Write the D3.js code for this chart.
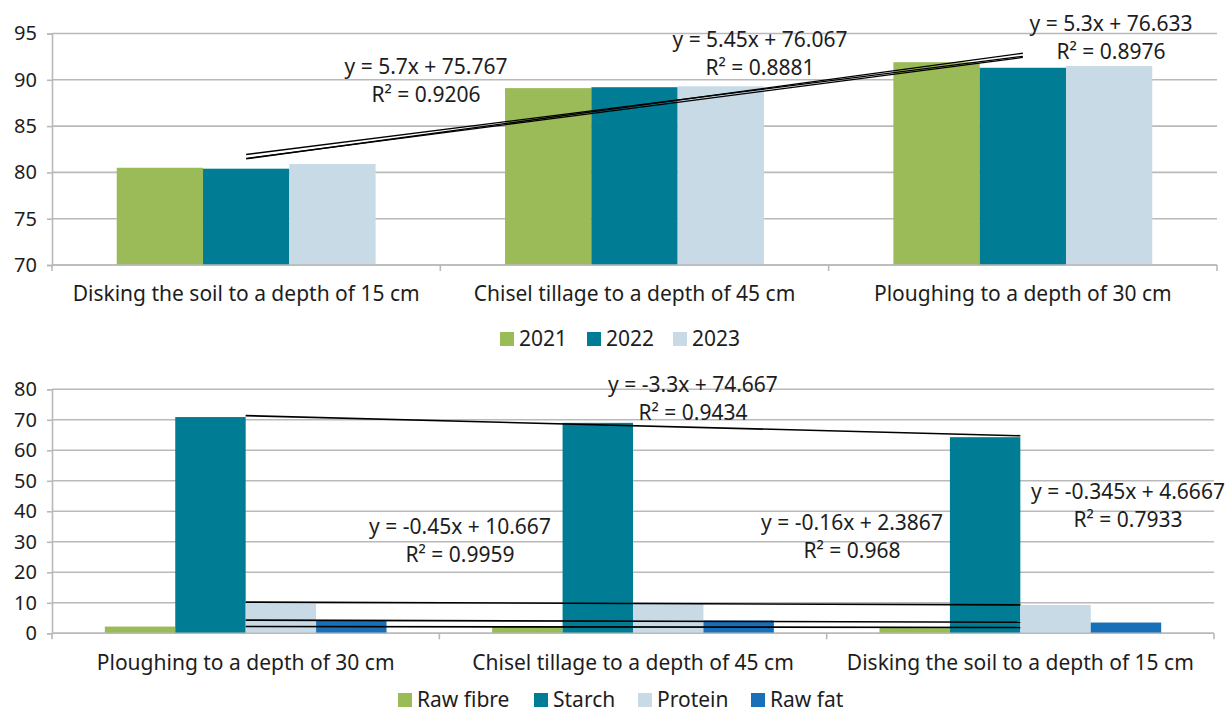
<!DOCTYPE html>
<html>
<head>
<meta charset="utf-8">
<script src="https://cdn.jsdelivr.net/npm/d3@7"></script>
<style>
  body { margin: 0; background: #fff; }
  text { font-family: "Noto Sans", sans-serif; fill: #1d1d1d; }
</style>
</head>
<body>
<svg id="chart" width="1230" height="713"></svg>
<script>
// ---- Upper chart: yield by tillage method and year ----
const topCategories = ["Disking the soil to a depth of 15 cm", "Chisel tillage to a depth of 45 cm", "Ploughing to a depth of 30 cm"];
const topSeries = ["2021", "2022", "2023"];
const values2021 = [80.5, 89.1, 91.9];
const values2022 = [80.4, 89.2, 91.3];
const values2023 = [80.9, 89.3, 91.5];
const topTicks = [70, 75, 80, 85, 90, 95];
const topTrendSlope = [5.7, 5.45, 5.3];
const topTrendIntercept = [75.767, 76.067, 76.633];
const topTrendR2 = [0.9206, 0.8881, 0.8976];

// ---- Lower chart: grain composition by tillage method ----
const bottomCategories = ["Ploughing to a depth of 30 cm", "Chisel tillage to a depth of 45 cm", "Disking the soil to a depth of 15 cm"];
const bottomSeries = ["Raw fibre", "Starch", "Protein", "Raw fat"];
const rawFibre = [2.21, 2.1, 1.89];
const starch = [70.9, 69.0, 64.3];
const protein = [10.2, 9.8, 9.3];
const rawFat = [4.22, 4.18, 3.53];
const bottomTicks = [0, 10, 20, 30, 40, 50, 60, 70, 80];
const bottomTrendSlope = [-0.16, -3.3, -0.45, -0.345];
const bottomTrendIntercept = [2.3867, 74.667, 10.667, 4.6667];
const bottomTrendR2 = [0.968, 0.9434, 0.9959, 0.7933];

const GREEN = "#9bbb59", TEAL = "#007c94", LIGHT = "#c7dae6", BLUE = "#1770b8";
const FONT = "21px";

const svg = d3.select("#chart");

function fmtNum(v) {
  // five significant digits, trailing zeros dropped
  return String(parseFloat(v.toPrecision(5)));
}
function equation(slope, intercept) {
  const sign = intercept < 0 ? " - " : " + ";
  return "y = " + fmtNum(slope) + "x" + sign + fmtNum(Math.abs(intercept));
}
function rsq(r2) {
  return "R\u00B2 = " + String(parseFloat(r2.toPrecision(4)));
}

function drawPanel(cfg) {
  const g = svg.append("g");
  const x = d3.scaleBand().domain(cfg.categories).range([cfg.left, cfg.right]);
  const y = d3.scaleLinear().domain(cfg.domain).range([cfg.bottom, cfg.top]);
  const inner = d3.scaleBand().domain(cfg.series).range([0, x.bandwidth()])
    .paddingInner(0).paddingOuter(0.75);

  // gridlines
  g.append("g").selectAll("line").data(cfg.ticks).join("line")
    .attr("x1", cfg.left).attr("x2", cfg.right)
    .attr("y1", d => y(d)).attr("y2", d => y(d))
    .attr("stroke", "#b9b9b9").attr("stroke-width", 1.6);

  // y axis
  const yAxis = d3.axisLeft(y).tickValues(cfg.ticks).tickSize(5).tickPadding(10);
  const ya = g.append("g").attr("transform", `translate(${cfg.left},0)`).call(yAxis);
  ya.select(".domain").attr("stroke", "#b9b9b9").attr("stroke-width", 1.6);
  ya.selectAll(".tick line").attr("stroke", "#b9b9b9").attr("stroke-width", 1.6);
  ya.selectAll("text").style("font-size", "20px").attr("fill", "#1d1d1d")
    .style("font-family", "'Noto Sans', sans-serif");

  // bars
  cfg.series.forEach((s, si) => {
    g.append("g").selectAll("rect").data(cfg.values[si]).join("rect")
      .attr("x", (d, i) => x(cfg.categories[i]) + inner(s))
      .attr("width", inner.bandwidth())
      .attr("y", d => y(d))
      .attr("height", d => y(cfg.domain[0]) - y(d))
      .attr("fill", cfg.colors[si]);
  });

  // x axis with ticks at category boundaries
  g.append("line").attr("x1", cfg.left).attr("x2", cfg.right)
    .attr("y1", cfg.bottom).attr("y2", cfg.bottom)
    .attr("stroke", "#b9b9b9").attr("stroke-width", 1.6);
  const bounds = cfg.categories.map(c => x(c)).concat([cfg.right]);
  g.append("g").selectAll("line").data(bounds).join("line")
    .attr("x1", d => d).attr("x2", d => d)
    .attr("y1", cfg.bottom).attr("y2", cfg.bottom + 6)
    .attr("stroke", "#b9b9b9").attr("stroke-width", 1.6);
  g.append("g").selectAll("text").data(cfg.categories).join("text")
    .attr("x", d => x(d) + x.bandwidth() / 2)
    .attr("y", cfg.bottom + 29)
    .attr("dy", "0.35em")
    .attr("text-anchor", "middle")
    .style("font-size", FONT)
    .text(d => d);

  // linear trendlines across the category positions 1..n
  const cx = i => x(cfg.categories[i]) + x.bandwidth() / 2;
  const n = cfg.categories.length;
  cfg.trendSeries.forEach(si => {
    const m = cfg.slope[si], b = cfg.intercept[si];
    g.append("line")
      .attr("x1", cx(0)).attr("y1", y(m * 1 + b))
      .attr("x2", cx(n - 1)).attr("y2", y(m * n + b))
      .attr("stroke", "#000").attr("stroke-width", cfg.trendWidth);
  });

  // trendline labels
  cfg.labelPos.forEach((p, si) => {
    const t = g.append("text").attr("text-anchor", "middle").style("font-size", FONT);
    t.append("tspan").attr("x", p[0]).attr("y", p[1]).attr("dy", "0.35em")
      .text(equation(cfg.slope[si], cfg.intercept[si]));
    t.append("tspan").attr("x", p[0]).attr("y", p[1] + 28).attr("dy", "0.35em")
      .text(rsq(cfg.r2[si]));
  });

  // legend
  const lg = g.append("g");
  cfg.series.forEach((s, si) => {
    const lx = cfg.legendX[si];
    lg.append("rect").attr("x", lx).attr("y", cfg.legendY - 7).attr("width", 14).attr("height", 14)
      .attr("fill", cfg.colors[si]);
    lg.append("text").attr("x", lx + 19).attr("y", cfg.legendY).attr("dy", "0.35em")
      .style("font-size", FONT).text(s);
  });
  return { x, y };
}

drawPanel({
  categories: topCategories,
  series: topSeries,
  values: [values2021, values2022, values2023],
  colors: [GREEN, TEAL, LIGHT],
  domain: [70, 95],
  ticks: topTicks,
  left: 52, right: 1217, top: 33.5, bottom: 265,
  slope: topTrendSlope, intercept: topTrendIntercept, r2: topTrendR2,
  trendSeries: [0, 1, 2],
  trendWidth: 1.3,
  labelPos: [[426, 67], [760, 40], [1111, 24]],
  legendX: [500, 587, 673],
  legendY: 339
});

drawPanel({
  categories: bottomCategories,
  series: bottomSeries,
  values: [rawFibre, starch, protein, rawFat],
  colors: [GREEN, TEAL, LIGHT, BLUE],
  domain: [0, 80],
  ticks: bottomTicks,
  left: 52, right: 1214, top: 389.3, bottom: 633.3,
  slope: bottomTrendSlope, intercept: bottomTrendIntercept, r2: bottomTrendR2,
  trendSeries: [0, 1, 2, 3],
  trendWidth: 1.6,
  labelPos: [[852, 523], [693, 385], [460, 527], [1128, 492]],
  legendX: [398, 534, 638, 751],
  legendY: 700
});
</script>
</body>
</html>
